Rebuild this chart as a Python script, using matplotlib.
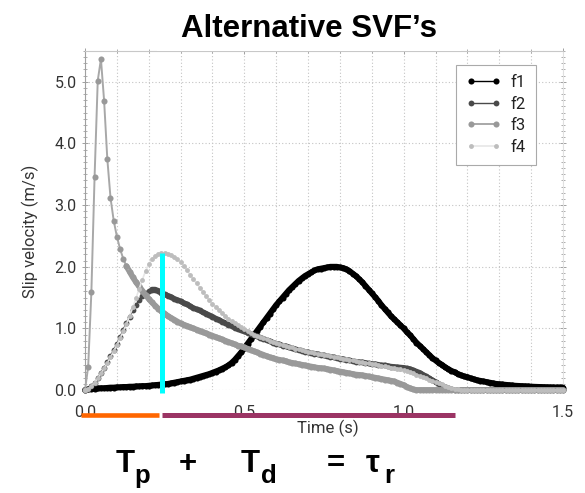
import numpy as np
import matplotlib
matplotlib.use("Agg")
import matplotlib.pyplot as plt
from matplotlib.ticker import MultipleLocator, FormatStrFormatter
from matplotlib.patches import Rectangle
import matplotlib.transforms as mtransforms

# sample times of the slip velocity functions (s), 0.01 s apart
time = np.linspace(0.0, 1.5, 151)

# slip velocity (m/s) for each source velocity function
f1 = [0.00, 0.01, 0.015, 0.02, 0.025, 0.03, 0.03, 0.035, 0.04, 0.04,
      0.045, 0.045, 0.05, 0.05, 0.055, 0.055, 0.06, 0.06, 0.065, 0.065,
      0.07, 0.075, 0.08, 0.085, 0.09, 0.095, 0.10, 0.11, 0.12, 0.13,
      0.14, 0.15, 0.16, 0.17, 0.185, 0.20, 0.215, 0.23, 0.245, 0.26,
      0.28, 0.30, 0.32, 0.345, 0.37, 0.40, 0.44, 0.49, 0.55, 0.61,
      0.68, 0.75, 0.82, 0.89, 0.96, 1.03, 1.10, 1.17, 1.24, 1.31,
      1.38, 1.44, 1.50, 1.56, 1.62, 1.67, 1.72, 1.77, 1.81, 1.85,
      1.88, 1.91, 1.94, 1.96, 1.97, 1.98, 1.99, 2.00, 2.00, 2.00,
      1.99, 1.98, 1.96, 1.93, 1.89, 1.85, 1.80, 1.75, 1.69, 1.63,
      1.57, 1.51, 1.45, 1.38, 1.32, 1.26, 1.20, 1.15, 1.10, 1.05,
      1.00, 0.94, 0.89, 0.83, 0.77, 0.72, 0.67, 0.62, 0.57, 0.52,
      0.48, 0.44, 0.41, 0.37, 0.34, 0.31, 0.29, 0.26, 0.24, 0.22,
      0.21, 0.19, 0.175, 0.16, 0.15, 0.14, 0.13, 0.12, 0.11, 0.10,
      0.095, 0.09, 0.085, 0.08, 0.075, 0.07, 0.067, 0.064, 0.061, 0.058,
      0.055, 0.053, 0.051, 0.049, 0.047, 0.045, 0.044, 0.043, 0.042, 0.041,
      0.04]

f2 = [0.00, 0.02, 0.06, 0.12, 0.19, 0.28, 0.36, 0.45, 0.55, 0.65,
      0.75, 0.86, 0.98, 1.09, 1.19, 1.29, 1.38, 1.46, 1.53, 1.58,
      1.61, 1.63, 1.63, 1.61, 1.57, 1.55, 1.53, 1.51, 1.48, 1.46,
      1.44, 1.41, 1.39, 1.36, 1.33, 1.31, 1.29, 1.26, 1.24, 1.21,
      1.19, 1.16, 1.14, 1.11, 1.09, 1.06, 1.04, 1.01, 0.99, 0.97,
      0.95, 0.93, 0.91, 0.89, 0.87, 0.85, 0.83, 0.81, 0.79, 0.77,
      0.75, 0.74, 0.72, 0.71, 0.69, 0.68, 0.66, 0.65, 0.64, 0.62,
      0.61, 0.60, 0.59, 0.58, 0.57, 0.56, 0.55, 0.54, 0.53, 0.52,
      0.51, 0.50, 0.49, 0.48, 0.47, 0.46, 0.45, 0.45, 0.44, 0.43,
      0.42, 0.42, 0.41, 0.40, 0.40, 0.39, 0.38, 0.375, 0.37, 0.365,
      0.36, 0.35, 0.34, 0.32, 0.30, 0.28, 0.25, 0.22, 0.19, 0.16,
      0.13, 0.10, 0.07, 0.05, 0.03, 0.01, 0.00, 0.00, 0.00, 0.00,
      0.00, 0.00, 0.00, 0.00, 0.00, 0.00, 0.00, 0.00, 0.00, 0.00,
      0.00, 0.00, 0.00, 0.00, 0.00, 0.00, 0.00, 0.00, 0.00, 0.00,
      0.00, 0.00, 0.00, 0.00, 0.00, 0.00, 0.00, 0.00, 0.00, 0.00,
      0.00]

f3 = [0.00, 0.38, 1.59, 3.45, 5.02, 5.37, 4.69, 3.75, 3.12, 2.75,
      2.49, 2.29, 2.13, 2.01, 1.92, 1.83, 1.75, 1.68, 1.61, 1.54,
      1.48, 1.42, 1.37, 1.32, 1.28, 1.24, 1.20, 1.17, 1.14, 1.11,
      1.08, 1.06, 1.04, 1.02, 1.00, 0.98, 0.96, 0.94, 0.92, 0.90,
      0.88, 0.86, 0.84, 0.82, 0.80, 0.78, 0.76, 0.74, 0.72, 0.71,
      0.69, 0.67, 0.65, 0.63, 0.61, 0.59, 0.57, 0.55, 0.53, 0.52,
      0.50, 0.49, 0.48, 0.47, 0.45, 0.44, 0.43, 0.42, 0.41, 0.40,
      0.39, 0.38, 0.37, 0.36, 0.355, 0.35, 0.34, 0.33, 0.32, 0.31,
      0.30, 0.29, 0.28, 0.27, 0.26, 0.25, 0.245, 0.24, 0.23, 0.22,
      0.21, 0.20, 0.19, 0.18, 0.17, 0.16, 0.15, 0.14, 0.12, 0.10,
      0.08, 0.05, 0.03, 0.01, 0.00, 0.00, 0.00, 0.00, 0.00, 0.00,
      0.00, 0.00, 0.00, 0.00, 0.00, 0.00, 0.00, 0.00, 0.00, 0.00,
      0.00, 0.00, 0.00, 0.00, 0.00, 0.00, 0.00, 0.00, 0.00, 0.00,
      0.00, 0.00, 0.00, 0.00, 0.00, 0.00, 0.00, 0.00, 0.00, 0.00,
      0.00, 0.00, 0.00, 0.00, 0.00, 0.00, 0.00, 0.00, 0.00, 0.00,
      0.00]

f4 = [0.00, 0.02, 0.06, 0.12, 0.19, 0.27, 0.35, 0.44, 0.53, 0.63,
      0.73, 0.84, 0.95, 1.07, 1.20, 1.34, 1.49, 1.64, 1.79, 1.93,
      2.04, 2.12, 2.18, 2.21, 2.22, 2.22, 2.21, 2.19, 2.16, 2.12,
      2.07, 2.01, 1.94, 1.87, 1.80, 1.73, 1.66, 1.59, 1.52, 1.46,
      1.40, 1.35, 1.30, 1.25, 1.20, 1.16, 1.12, 1.08, 1.05, 1.02,
      0.99, 0.96, 0.93, 0.90, 0.88, 0.86, 0.84, 0.82, 0.80, 0.78,
      0.76, 0.75, 0.73, 0.72, 0.70, 0.69, 0.67, 0.66, 0.65, 0.63,
      0.62, 0.61, 0.60, 0.59, 0.58, 0.57, 0.56, 0.55, 0.54, 0.53,
      0.52, 0.51, 0.50, 0.49, 0.48, 0.47, 0.46, 0.455, 0.445, 0.435,
      0.425, 0.415, 0.405, 0.395, 0.385, 0.375, 0.365, 0.355, 0.345, 0.335,
      0.32, 0.305, 0.29, 0.27, 0.25, 0.23, 0.21, 0.19, 0.17, 0.15,
      0.13, 0.11, 0.09, 0.07, 0.05, 0.035, 0.02, 0.01, 0.00, 0.00,
      0.00, 0.00, 0.00, 0.00, 0.00, 0.00, 0.00, 0.00, 0.00, 0.00,
      0.00, 0.00, 0.00, 0.00, 0.00, 0.00, 0.00, 0.00, 0.00, 0.00,
      0.00, 0.00, 0.00, 0.00, 0.00, 0.00, 0.00, 0.00, 0.00, 0.00,
      0.00]

labels = ["f1", "f2", "f3", "f4"]
series = [f1, f2, f3, f4]

# rise time split: peak time Tp and end of the decay Td (s)
peak_time = 0.243
rise_start = -0.013
decay_end = 1.16

# line colour, marker colour, line width, marker size per curve
line_colors = ["#000000", "#4a4a4a", "#a8a8a8", "#e6e6e6"]
marker_colors = ["#000000", "#4a4a4a", "#999999", "#bdbdbd"]
line_widths = [1.0, 1.0, 1.4, 1.2]
marker_sizes = [4.4, 4.2, 4.4, 3.5]
# index from which the densely sampled dots merge into a solid band
band_from = [0, 21, 13, None]

tick_font = ["Roboto", "DejaVu Sans"]
bold_font = ["Liberation Sans", "DejaVu Sans"]

fig = plt.figure(figsize=(5.85, 4.93), dpi=100)
ax = fig.add_axes([85 / 585, 103 / 493, 478 / 585, 339 / 493])

for i in range(4):
    if band_from[i] is not None:
        k = band_from[i]
        ax.plot(time[k:], series[i][k:], color=marker_colors[i],
                lw=marker_sizes[i] * 0.95, solid_joinstyle="round",
                solid_capstyle="round", zorder=3 + i, clip_on=False)
    ax.plot(time, series[i], color=line_colors[i], lw=line_widths[i],
            marker="o", ms=marker_sizes[i], mfc=marker_colors[i],
            mec=marker_colors[i], mew=0, label=labels[i],
            zorder=3 + i, clip_on=False)

# vertical marker at the peak time of f4
ax.plot([peak_time, peak_time], [-0.05, max(f4)], color="#00ffff", lw=3.6,
        solid_capstyle="butt", zorder=10, clip_on=False)

# Tp and Td bars under the time axis
bar_trans = mtransforms.blended_transform_factory(ax.transData, ax.transAxes)
ax.plot([rise_start, peak_time - 0.01], [-0.074, -0.074], color="#ff6600",
        lw=3.3, solid_capstyle="butt", transform=bar_trans, clip_on=False)
ax.plot([peak_time, decay_end], [-0.074, -0.074], color="#9b3464",
        lw=3.6, solid_capstyle="butt", transform=bar_trans, clip_on=False)

ax.set_xlim(0, 1.5)
ax.set_ylim(0, 5.5)
ax.xaxis.set_major_locator(MultipleLocator(0.5))
ax.xaxis.set_minor_locator(MultipleLocator(0.1))
ax.yaxis.set_major_locator(MultipleLocator(1.0))
ax.yaxis.set_minor_locator(MultipleLocator(0.1))
ax.xaxis.set_major_formatter(FormatStrFormatter("%.1f"))
ax.yaxis.set_major_formatter(FormatStrFormatter("%.1f"))

ax.grid(which="both", axis="x", ls=(0, (1, 2)), color="#c4c4c4", lw=0.8)
ax.grid(which="major", axis="y", ls=(0, (1, 2)), color="#c4c4c4", lw=0.8)
ax.set_axisbelow(True)

ax.tick_params(which="both", direction="inout", color="#a0a0a0",
               top=True, right=True, labelsize=11.5, labelcolor="#333333")
ax.tick_params(which="major", length=4, width=0.7)
ax.tick_params(which="minor", length=3, width=0.6)
ax.tick_params(axis="y", pad=4)
ax.tick_params(axis="x", which="both", bottom=False, pad=9)
for lab in ax.get_xticklabels() + ax.get_yticklabels():
    lab.set_family(tick_font)

ax.spines["bottom"].set_visible(False)
ax.spines["left"].set_color("#a0a0a0")
ax.spines["top"].set_color("#c8c8c8")
ax.spines["right"].set_color("#e0e0e0")

leg = ax.legend(loc="upper right", bbox_to_anchor=(0.943, 0.959),
                borderaxespad=0, numpoints=2, handlelength=2.1,
                handletextpad=0.6, labelspacing=0.4, borderpad=0.6,
                fancybox=False, framealpha=1, edgecolor="#aaaaaa",
                prop={"family": tick_font, "size": 12})
leg.get_frame().set_linewidth(0.8)
for txt in leg.get_texts():
    txt.set_color("#222222")

fig.text(30 / 585, 1 - 231 / 493, "Slip velocity (m/s)", rotation=90,
         ha="center", va="center", fontsize=12, color="#333333",
         family=tick_font)
fig.text(328 / 585, 1 - 428 / 493, "Time (s)", ha="center", va="center",
         fontsize=12, color="#333333", family=tick_font)

# white block behind the title, over the top frame
fig.patches.append(Rectangle((157 / 585, 1 - 51 / 493), 304 / 585, 51 / 493,
                             transform=fig.transFigure, facecolor="white",
                             edgecolor="none", zorder=1))
fig.text(309 / 585, 1 - 37 / 493, "Alternative SVF\u2019s", ha="center",
         va="baseline", fontsize=22.5, fontweight="bold", family=bold_font,
         zorder=3)

# Tp + Td = tau_r under the axis
def eq_text(x, y, s, size):
    fig.text(x / 585, 1 - y / 493, s, ha="left", va="baseline",
             fontsize=size, fontweight="bold", family=bold_font)

eq_text(116, 472, "T", 22.5)
eq_text(134, 483, "p", 18.5)
eq_text(179, 472, "+", 22.5)
eq_text(241, 472, "T", 22.5)
eq_text(261, 483, "d", 18.5)
eq_text(327, 472, "=", 22.5)
eq_text(366, 472, "\u03c4", 22.5)
eq_text(384, 483, "r", 18.5)

fig.savefig("out.png", dpi=100)
